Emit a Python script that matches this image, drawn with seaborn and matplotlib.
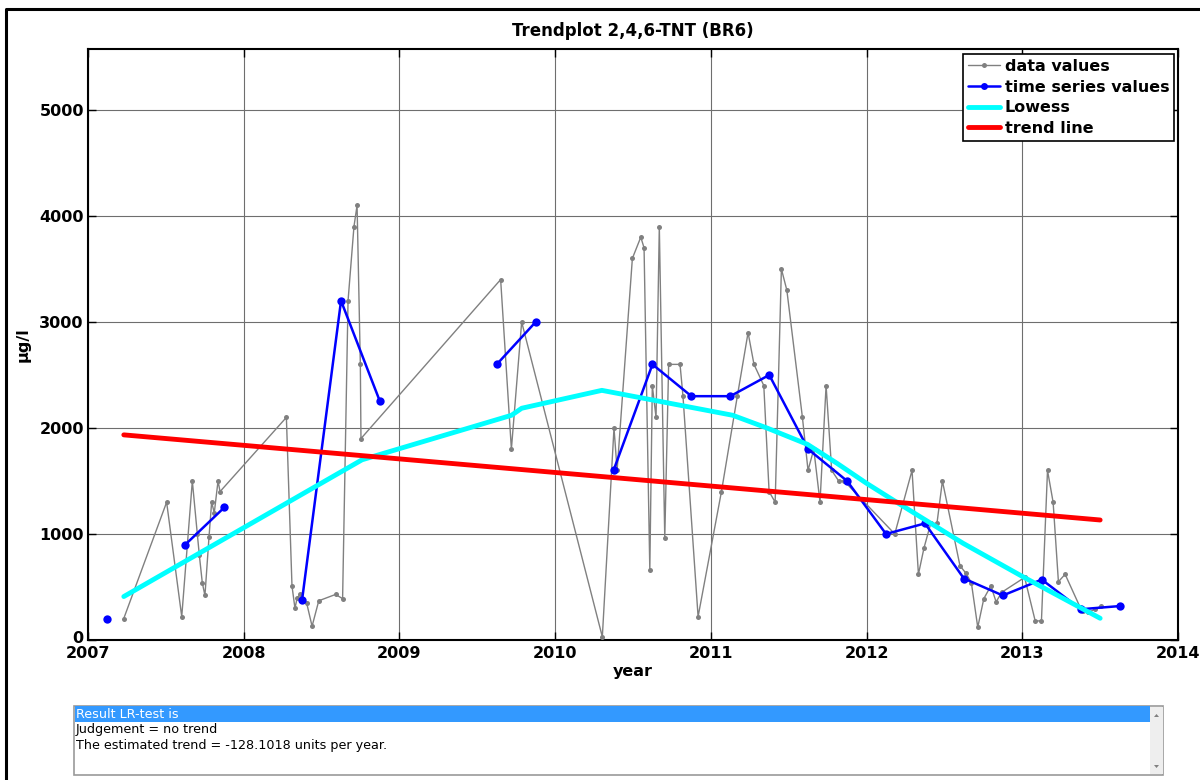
import numpy as np
import pandas as pd
import matplotlib
matplotlib.use("Agg")
import matplotlib.pyplot as plt
from matplotlib.lines import Line2D
from matplotlib.patches import Rectangle, Polygon
from matplotlib.transforms import ScaledTranslation
import seaborn as sns

# ---------------- data ----------------
data_x = [2007.229, 2007.505, 2007.602, 2007.670, 2007.702, 2007.715, 2007.734, 2007.751,
          2007.777, 2007.794, 2007.811, 2007.835, 2007.848,
          2008.274, 2008.310, 2008.329, 2008.344, 2008.362, 2008.404, 2008.439, 2008.482,
          2008.590, 2008.635, 2008.670, 2008.708, 2008.728, 2008.749, 2008.753,
          2009.650, 2009.719, 2009.785,
          2010.303, 2010.378, 2010.398, 2010.496, 2010.550, 2010.571, 2010.608, 2010.624,
          2010.648, 2010.669, 2010.704, 2010.729, 2010.802, 2010.821, 2010.918,
          2011.068, 2011.170, 2011.239, 2011.277, 2011.340, 2011.374, 2011.413, 2011.453,
          2011.488, 2011.588, 2011.624, 2011.661, 2011.701, 2011.740, 2011.776, 2011.821,
          2011.856, 2012.181, 2012.292, 2012.333, 2012.369, 2012.412, 2012.452, 2012.487,
          2012.600, 2012.638, 2012.673, 2012.714, 2012.753, 2012.798, 2012.832, 2012.868,
          2013.015, 2013.083, 2013.123, 2013.162, 2013.198, 2013.232, 2013.275, 2013.371,
          2013.388, 2013.424, 2013.467, 2013.506]
data_y = [200, 1300, 220, 1500, 1000, 800, 540, 420,
          970, 1300, 1200, 1500, 1400,
          2100, 510, 300, 400, 430, 350, 130, 370,
          430, 390, 3200, 3900, 4100, 2600, 1900,
          3400, 1800, 3000,
          30, 2000, 1600, 3600, 3800, 3700, 660, 2400,
          2100, 3900, 960, 2600, 2600, 2300, 220,
          1400, 2300, 2900, 2600, 2400, 1400, 1300, 3500,
          3300, 2100, 1600, 1800, 1300, 2400, 1600, 1500,
          1500, 1000, 1600, 620, 870, 1100, 1100, 1500,
          700, 630, 540, 120, 390, 510, 360, 450,
          590, 180, 180, 1600, 1300, 550, 620, 310,
          270, 260, 290, 320]

ts_x = [2007.125, 2007.375, 2007.625, 2007.875, 2008.125, 2008.375, 2008.625, 2008.875,
        2009.125, 2009.375, 2009.625, 2009.875, 2010.125, 2010.375, 2010.625, 2010.875,
        2011.125, 2011.375, 2011.625, 2011.875, 2012.125, 2012.375, 2012.625, 2012.875,
        2013.125, 2013.375, 2013.625]
ts_y = [200, np.nan, 900, 1250, np.nan, 380, 3200, 2250,
        np.nan, np.nan, 2600, 3000, np.nan, 1600, 2600, 2300,
        2300, 2500, 1800, 1500, 1000, 1100, 580, 420,
        570, 290, 320]

lowess_x = [2007.23, 2008.76, 2009.72, 2009.785, 2010.30, 2011.14, 2011.36, 2011.62,
            2011.81, 2012.00, 2012.17, 2012.62, 2013.00, 2013.50]
lowess_y = [410, 1700, 2120, 2186, 2355, 2120, 2000, 1846,
            1667, 1478, 1321, 912, 600, 205]

trend_x = [2007.23, 2013.50]
trend_y = [1935, 1132]

x_ticks = [2007, 2008, 2009, 2010, 2011, 2012, 2013, 2014]
y_ticks = [0, 1000, 2000, 3000, 4000, 5000]

title = "Trendplot 2,4,6-TNT (BR6)"
x_label = "year"
y_label = "µg/l"
legend_labels = ["data values", "time series values", "Lowess", "trend line"]
box_lines = ["Result LR-test is", "Judgement = no trend",
             "The estimated trend = -128.1018 units per year."]

# ---------------- figure ----------------
sns.set_theme(style="white")
plt.rcParams['font.family'] = ['DejaVu Sans']
plt.rcParams['text.color'] = 'black'
plt.rcParams['axes.labelcolor'] = 'black'
plt.rcParams['xtick.color'] = 'black'
plt.rcParams['ytick.color'] = 'black'

W, H = 1200, 780
fig = plt.figure(figsize=(W / 100, H / 100), dpi=100)
ax = fig.add_axes([88 / W, 1 - 640 / H, (1178 - 88) / W, (640 - 49) / H])

df_data = pd.DataFrame({"x": data_x, "y": data_y})
sns.lineplot(data=df_data, x="x", y="y", ax=ax, color="#808080", lw=1.0,
             marker="o", markersize=3.6, markeredgewidth=0, sort=False,
             estimator=None, zorder=3)

# time series: split into contiguous segments at gaps
ts = pd.DataFrame({"x": ts_x, "y": ts_y})
ts["seg"] = ts["y"].isna().cumsum()
ts = ts.dropna()
for _, g in ts.groupby("seg"):
    sns.lineplot(data=g, x="x", y="y", ax=ax, color="#0000FF", lw=1.8,
                 marker="o", markersize=6, markeredgewidth=0, sort=False,
                 estimator=None, zorder=4)

df_low = pd.DataFrame({"x": lowess_x, "y": lowess_y})
sns.lineplot(data=df_low, x="x", y="y", ax=ax, color="#00FFFF", lw=3.5,
             sort=False, estimator=None, zorder=5)

df_tr = pd.DataFrame({"x": trend_x, "y": trend_y})
sns.lineplot(data=df_tr, x="x", y="y", ax=ax, color="#FF0000", lw=3.5,
             sort=False, estimator=None, zorder=5)

ax.set_xlim(2007, 2014)
ax.set_ylim(0, 5575)
ax.set_xticks(x_ticks)
ax.set_yticks(y_ticks)
ax.set_xticklabels([str(t) for t in x_ticks], fontweight="bold", fontsize=11.5, color="black")
ax.set_yticklabels([str(t) for t in y_ticks], fontweight="bold", fontsize=11.5, color="black")
ax.tick_params(direction="in", length=6, width=1, top=True, right=True,
               bottom=True, left=True, pad=3, colors="black")
ax.tick_params(axis="x", pad=4.5)
ax.grid(True, color="#6e6e6e", lw=0.8)
for s in ax.spines.values():
    s.set_color("black")
    s.set_linewidth(1.5)

# nudge the "0" label up a little, as in the reference
zero_lbl = ax.get_yticklabels()[0]
zero_lbl.set_transform(zero_lbl.get_transform() + ScaledTranslation(0, 3 / 100, fig.dpi_scale_trans))

ax.set_title(title, fontweight="bold", fontsize=12, pad=9, color="black")
ax.set_xlabel(x_label, fontweight="bold", fontsize=11.5, labelpad=2, color="black")
ax.set_ylabel(y_label, fontweight="bold", fontsize=11.5, labelpad=6, color="black")

handles = [
    Line2D([], [], color="#808080", lw=1.0, marker="o", markersize=3.6, markeredgewidth=0),
    Line2D([], [], color="#0000FF", lw=1.8, marker="o", markersize=5, markeredgewidth=0),
    Line2D([], [], color="#00FFFF", lw=3.5),
    Line2D([], [], color="#FF0000", lw=3.5),
]
leg = ax.legend(handles, legend_labels, loc="upper right",
                bbox_to_anchor=((1174 - 88) / 1090, (640 - 54) / 591),
                borderaxespad=0, frameon=True, fancybox=False, framealpha=1,
                edgecolor="black", prop={"weight": "bold", "size": 11.5},
                handlelength=2.0, handletextpad=0.3, labelspacing=0.36,
                borderpad=0.3)
leg.get_frame().set_linewidth(1.2)
for t in leg.get_texts():
    t.set_color("black")
leg.set_zorder(10)

# outer frame (cut at right and bottom)
fig.add_artist(Line2D([6 / W, 6 / W, 1.0], [0, 1 - 9 / H, 1 - 9 / H],
                      transform=fig.transFigure, color="black", lw=2.2))

# result text box
bx0, bx1, by0, by1 = 74, 1163, 706, 775
fig.add_artist(Rectangle((bx0 / W, 1 - by1 / H), (bx1 - bx0) / W, (by1 - by0) / H,
                         transform=fig.transFigure, facecolor="white",
                         edgecolor="#9a9a9a", lw=1.2))
fig.add_artist(Rectangle(((bx0 + 1) / W, 1 - 722 / H), (1150 - bx0 - 1) / W, 16 / H,
                         transform=fig.transFigure, facecolor="#3399FF",
                         edgecolor="none"))
fig.add_artist(Rectangle((1150 / W, 1 - 774 / H), 13 / W, 67 / H,
                         transform=fig.transFigure, facecolor="#EEEEEE",
                         edgecolor="none"))
fig.add_artist(Polygon([[1154 / W, 1 - 717 / H], [1159 / W, 1 - 717 / H], [1156.5 / W, 1 - 714 / H]],
                       closed=True, transform=fig.transFigure, facecolor="#808080",
                       edgecolor="none"))
fig.add_artist(Polygon([[1154 / W, 1 - 765 / H], [1159 / W, 1 - 765 / H], [1156.5 / W, 1 - 768 / H]],
                       closed=True, transform=fig.transFigure, facecolor="#808080",
                       edgecolor="none"))
line_y = [714, 730, 745]
for i, (txt, yy) in enumerate(zip(box_lines, line_y)):
    fig.text(76 / W, 1 - yy / H, txt, fontsize=9.2, va="center", ha="left",
             color="white" if i == 0 else "black")

fig.savefig("out.png", dpi=100)
